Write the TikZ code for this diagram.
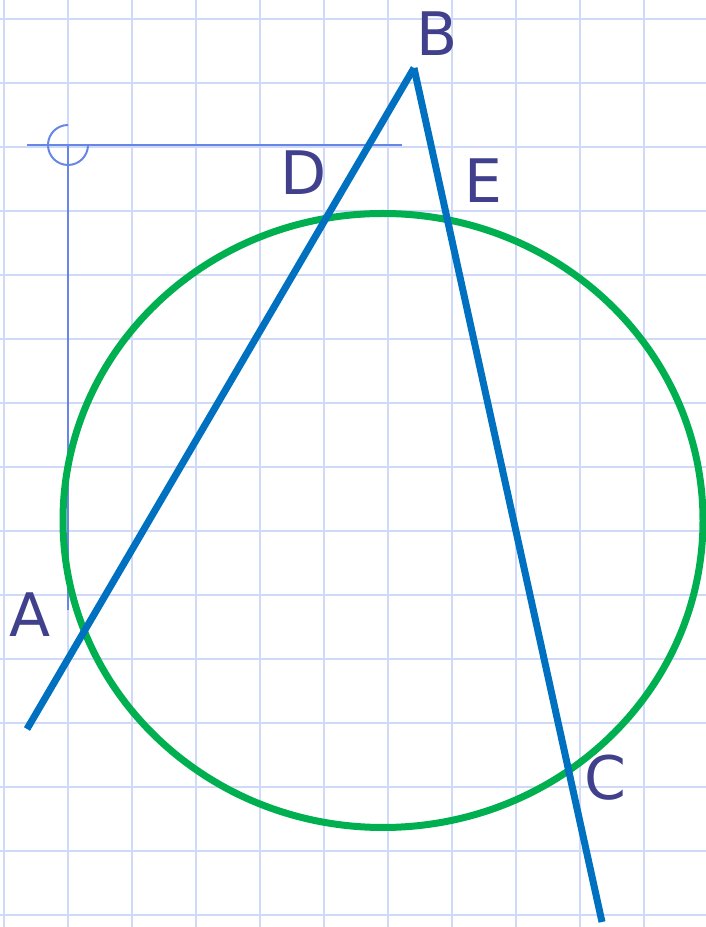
\documentclass[tikz,border=0pt]{standalone}
\usepackage{fontspec}
\setmainfont{DejaVu Sans}
\definecolor{gridc}{RGB}{206,218,248}
\definecolor{segblue}{RGB}{0,112,192}
\definecolor{circgreen}{RGB}{0,176,80}
\definecolor{perpblue}{RGB}{104,134,232}
\definecolor{labc}{RGB}{64,64,140}
\begin{document}
\begin{tikzpicture}[x=1pt,y=1pt,
  gridline/.style={draw=gridc,line width=2pt},
  segline/.style={draw=segblue,line width=7pt},
  circline/.style={draw=circgreen,line width=7pt},
  perpline/.style={draw=perpblue,line width=2pt},
  lab/.style={text=labc,font=\fontsize{60}{72}\selectfont,inner sep=0pt,anchor=base}]
\useasboundingbox (0,0) rectangle (706,927);
\fill[white] (0,0) rectangle (706,927);
% grid
\foreach \k in {0,...,10} {\draw[gridline] (4+64*\k,0) -- (4+64*\k,927);}
\foreach \k in {0,...,14} {\draw[gridline] (0,908-64*\k) -- (706,908-64*\k);}
% perpendicular marks
\coordinate (P0) at (68,782);
\coordinate (Pl) at (27,782);
\coordinate (Pr) at (402,782);
\coordinate (Pd) at (68,317);
\draw[perpline] (Pl) -- (Pr);
\draw[perpline] (P0) -- (Pd);
\draw[perpline] (68,802) arc[start angle=90,end angle=360,radius=20];
% circle
\coordinate (O) at (383,406.5);
\draw[circline] (O) ellipse[x radius=320,y radius=307];
% segments
\coordinate (A) at (27,198);
\coordinate (B) at (414,859);
\coordinate (C) at (602,5);
\draw[segline] (A) -- (B);
\draw[segline] (B) -- (C);
% labels
\node[lab] (lA) at (30,290) {A};
\node[lab] (lB) at (437,871) {B};
\node[lab] (lC) at (605,127) {C};
\node[lab] (lD) at (304,732) {D};
\node[lab] (lE) at (483,724) {E};
\end{tikzpicture}
\end{document}
